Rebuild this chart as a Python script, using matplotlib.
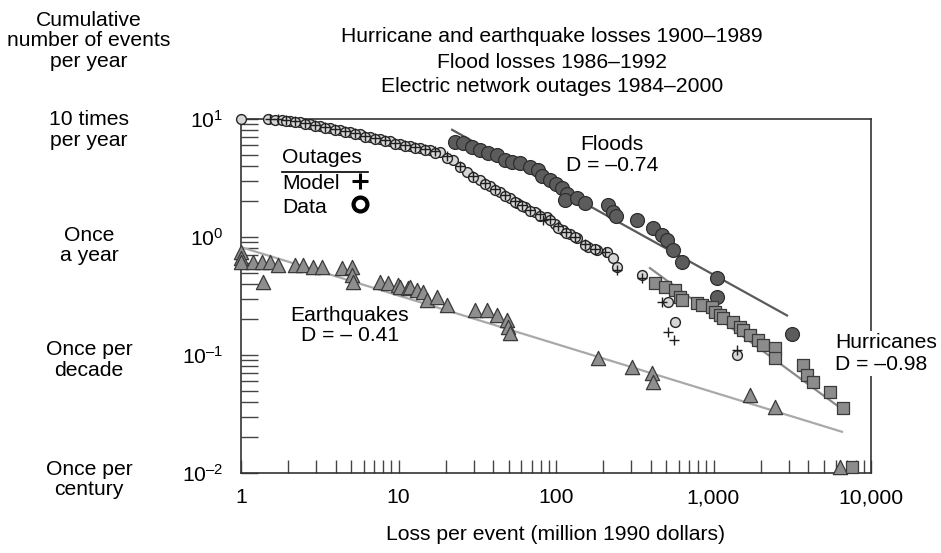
import numpy as np
import matplotlib
matplotlib.use("Agg")
import matplotlib.pyplot as plt
from matplotlib.ticker import LogLocator, NullFormatter, FixedLocator, FixedFormatter

#=========================== fonts ===========================
plt.rcParams['font.family'] = ['Liberation Sans', 'DejaVu Sans']
plt.rcParams['mathtext.fontset'] = 'custom'
plt.rcParams['mathtext.rm'] = 'Liberation Sans'
plt.rcParams['mathtext.it'] = 'Liberation Sans:italic'
FS = 15.2

#=========================== data ============================
# electric network outages (loss, events per year)
outage_loss = [1.0, 1.48, 1.64, 1.82, 2.05, 2.37, 2.74, 3.17, 3.67, 4.25, 4.92, 5.70, 6.59,
               7.63, 8.83, 10.2, 11.8, 13.7, 15.8, 18.3, 22.2, 27.2, 32.9, 38.1, 44.1, 51.0,
               56.5, 63.5, 73.6, 87.7, 98.6, 111, 123, 136, 160, 182, 211, 230, 244, 352,
               507, 514, 570, 1410,
               1.93, 2.20, 2.55, 2.95, 3.41, 3.95, 4.57, 5.29, 6.13, 7.09, 8.21, 9.50, 11.0,
               12.7, 14.7, 17.1, 20.3, 24.6, 29.7, 35.4, 41.0, 47.5, 54.9, 60.8, 68.4, 79.1,
               91.6, 103, 116, 132, 153, 177]
outage_rate = [10.0, 10.0, 9.81, 9.81, 9.62, 9.43, 9.07, 8.72, 8.39, 8.07, 7.76, 7.46, 7.04,
               6.77, 6.51, 6.14, 5.90, 5.68, 5.46, 5.25, 4.49, 3.55, 3.04, 2.71, 2.41, 2.14,
               1.94, 1.80, 1.63, 1.48, 1.29, 1.15, 1.06, 0.98, 0.822, 0.776, 0.746, 0.664,
               0.557, 0.477, 0.377, 0.281, 0.190, 0.100,
               9.70, 9.45, 9.10, 8.75, 8.40, 8.05, 7.75, 7.45, 7.05, 6.80, 6.50, 6.15, 5.90,
               5.65, 5.45, 5.20, 4.70, 3.90, 3.20, 2.80, 2.50, 2.22, 1.98, 1.82, 1.66, 1.52,
               1.38, 1.20, 1.08, 1.00, 0.86, 0.79]

# outage model
model_loss = [1.53, 1.72, 1.93, 2.20, 2.55, 2.95, 3.41, 3.95, 4.57, 5.29, 6.13, 7.09, 8.21,
              9.50, 11.0, 12.7, 14.7, 17.1, 20.3, 24.6, 29.7, 35.4, 41.0, 47.5, 54.9, 60.8,
              68.4, 79.1, 82.7, 91.6, 103, 116, 132, 153, 177, 205, 244, 352, 471, 514, 561,
              1410]
model_rate = [10.0, 10.0, 9.81, 9.62, 9.25, 8.90, 8.55, 8.23, 7.91, 7.61, 7.18, 6.90, 6.64,
              6.26, 6.02, 5.79, 5.57, 5.36, 4.86, 4.00, 3.29, 2.87, 2.55, 2.27, 2.02, 1.87,
              1.69, 1.57, 1.39, 1.42, 1.24, 1.10, 1.0, 0.873, 0.791, 0.746, 0.525, 0.450,
              0.281, 0.157, 0.134, 0.110]

# floods 1986-1992
flood_loss = [22.8, 25.7, 29.3, 32.9, 37.0, 42.2, 47.5, 52.6, 59.1, 68.4, 76.9, 81.5, 91.6,
              100, 109, 117, 114, 136, 153, 214, 230, 240, 327, 413, 471, 507, 553, 631,
              1052, 1052, 3150]
flood_rate = [6.38, 6.26, 5.79, 5.46, 5.15, 4.95, 4.49, 4.32, 4.24, 3.92, 3.70, 3.29, 3.04,
              2.81, 2.60, 2.31, 2.06, 2.14, 1.94, 1.87, 1.63, 1.51, 1.39, 1.19, 1.04, 0.944,
              0.776, 0.614, 0.450, 0.310, 0.151]

# hurricanes 1900-1989
hurr_loss = [425, 492, 570, 613, 631, 786, 845, 978, 1023, 1099, 1148, 1330, 1473, 1539,
             1706, 1918, 2061, 2455, 2455, 3700, 3925, 4285, 5495, 6640, 7570]
hurr_rate = [0.408, 0.377, 0.356, 0.310, 0.292, 0.276, 0.265, 0.255, 0.231, 0.218, 0.206,
             0.190, 0.173, 0.163, 0.148, 0.134, 0.122, 0.115, 0.0944, 0.0823, 0.0678,
             0.0590, 0.0486, 0.0356, 0.0112]

# earthquakes 1900-1989
quake_loss = [1.0, 1.0, 1.0, 1.19, 1.36, 1.53, 1.72, 1.37, 2.20, 2.48, 2.87, 3.27, 4.38,
              5.07, 5.07, 5.14, 7.63, 8.58, 9.93, 10.2, 11.5, 11.8, 13.1, 14.3, 15.2, 17.6,
              20.3, 30.6, 36.5, 42.2, 48.9, 49.6, 51.0, 185, 304, 407, 413, 1706, 2455, 6355]
quake_rate = [0.746, 0.664, 0.614, 0.614, 0.614, 0.614, 0.579, 0.416, 0.579, 0.579, 0.557,
              0.557, 0.546, 0.557, 0.477, 0.416, 0.416, 0.408, 0.392, 0.377, 0.370, 0.377,
              0.356, 0.342, 0.292, 0.310, 0.265, 0.240, 0.240, 0.218, 0.198, 0.173, 0.153,
              0.0944, 0.0791, 0.0703, 0.0590, 0.0458, 0.0362, 0.0112]

# power-law fits N = A * loss^D
fit_names = ['Floods', 'Hurricanes', 'Earthquakes']
fit_D = [-0.74, -0.98, -0.41]
fit_A = [79.5, 191.0, 0.82]
fit_range = [(21.9, 2930), (395, 6545), (1.0, 6545)]

xtick_vals = [1, 10, 100, 1000, 10000]
xtick_text = ['1', '10', '100', '1,000', '10,000']
ytick_vals = [1e-2, 1e-1, 1e0, 1e1]
ytick_text = ['$\\mathregular{10^{\u20132}}$', '$\\mathregular{10^{\u20131}}$',
              '$\\mathregular{10^{0}}$', '$\\mathregular{10^{1}}$']

side_labels = ['Cumulative\nnumber of events\nper year', '10 times\nper year',
               'Once\na year', 'Once per\ndecade', 'Once per\ncentury']
side_y = [0.926, 0.765, 0.556, 0.349, 0.133]

title_lines = ['Hurricane and earthquake losses 1900\u20131989',
               'Flood losses 1986\u20131992',
               'Electric network outages 1984\u20132000']

#=========================== figure ==========================
fig = plt.figure(figsize=(9.41, 5.53), dpi=100)
ax = fig.add_axes([241 / 941, 1 - 473 / 553, 630 / 941, 354 / 553])
ax.set_xscale('log')
ax.set_yscale('log')
ax.set_xlim(1, 10000)
ax.set_ylim(0.01, 10)

# fitted lines
line_cols = ['#5a5a5a', '#8a8a8a', '#a9a9a9']
for D, A, (x0, x1), c in zip(fit_D, fit_A, fit_range, line_cols):
    xs = np.array([x0, x1])
    ax.plot(xs, A * xs ** D, color=c, lw=1.6, zorder=2)

ax.scatter(quake_loss, quake_rate, marker='^', s=105, facecolor='#8e8e8e',
           edgecolor='#3a3a3a', linewidth=0.9, zorder=3, clip_on=False)
ax.scatter(flood_loss, flood_rate, marker='o', s=100, facecolor='#5c5c5c',
           edgecolor='#2e2e2e', linewidth=0.9, zorder=3, clip_on=False)
ax.scatter(outage_loss, outage_rate, marker='o', s=50, facecolor='#d6d6d6',
           edgecolor='#262626', linewidth=1.0, zorder=4, clip_on=False)
ax.scatter(model_loss, model_rate, marker='+', s=50, color='#1e1e1e',
           linewidth=1.0, zorder=5, clip_on=False)
ax.scatter(hurr_loss, hurr_rate, marker='s', s=75, facecolor='#8c8c8c',
           edgecolor='#3a3a3a', linewidth=0.9, zorder=4, clip_on=False)

# axes styling
for sp in ax.spines.values():
    sp.set_color('#333333')
    sp.set_linewidth(1.2)
ax.xaxis.set_major_locator(FixedLocator(xtick_vals))
ax.xaxis.set_major_formatter(FixedFormatter(xtick_text))
ax.xaxis.set_minor_locator(LogLocator(base=10, subs=np.arange(2, 10)))
ax.xaxis.set_minor_formatter(NullFormatter())
ax.yaxis.set_major_locator(FixedLocator(ytick_vals))
ax.yaxis.set_major_formatter(FixedFormatter(ytick_text))
ax.yaxis.set_minor_locator(LogLocator(base=10, subs=np.arange(2, 10)))
ax.yaxis.set_minor_formatter(NullFormatter())
ax.xaxis.set_tick_params(which='both', direction='in', length=9.5, width=1.0,
                         color='#444444', labelsize=FS, pad=11)
ax.yaxis.set_tick_params(which='both', direction='in', length=12.5, width=1.0,
                         color='#444444', labelsize=FS, pad=13)
ax.tick_params(top=False, right=False)

# annotations
ax.text(227, 4.95, 'Floods\nD = \u20130.74', ha='center', va='center', fontsize=FS,
        linespacing=1.08, zorder=6)
ax.text(4.92, 0.178, 'Earthquakes\nD = \u2013 0.41', ha='center', va='center', fontsize=FS,
        linespacing=1.08, zorder=6)
ax.text(5905, 0.103, 'Hurricanes\nD = \u20130.98', ha='left', va='center', fontsize=FS,
        linespacing=1.18, zorder=6, clip_on=False,
        bbox=dict(facecolor='white', edgecolor='none', pad=1.5))

# outages key
ax.text(0.065, 0.890, 'Outages', transform=ax.transAxes, ha='left', va='center', fontsize=FS)
ax.plot([0.065, 0.202], [0.851, 0.851], transform=ax.transAxes, color='black', lw=1.2)
ax.text(0.065, 0.819, 'Model', transform=ax.transAxes, ha='left', va='center', fontsize=FS)
ax.text(0.065, 0.751, 'Data', transform=ax.transAxes, ha='left', va='center', fontsize=FS)
ax.plot([0.189], [0.826], transform=ax.transAxes, marker='+', ms=11, mew=2.2, color='black')
ax.plot([0.189], [0.760], transform=ax.transAxes, marker='o', ms=10, mew=3,
        mfc='white', mec='black')

# surrounding text
for i, t in enumerate(title_lines):
    fig.text(552 / 941, 1 - (37 + 25 * i) / 553, t, ha='center', va='center', fontsize=FS)
for t, y in zip(side_labels, side_y):
    fig.text(89 / 941, y, t, ha='center', va='center', fontsize=FS, linespacing=1.08)
fig.text(556 / 941, 1 - 534 / 553, 'Loss per event (million 1990 dollars)',
         ha='center', va='center', fontsize=FS)

fig.savefig('out.png', dpi=100)
